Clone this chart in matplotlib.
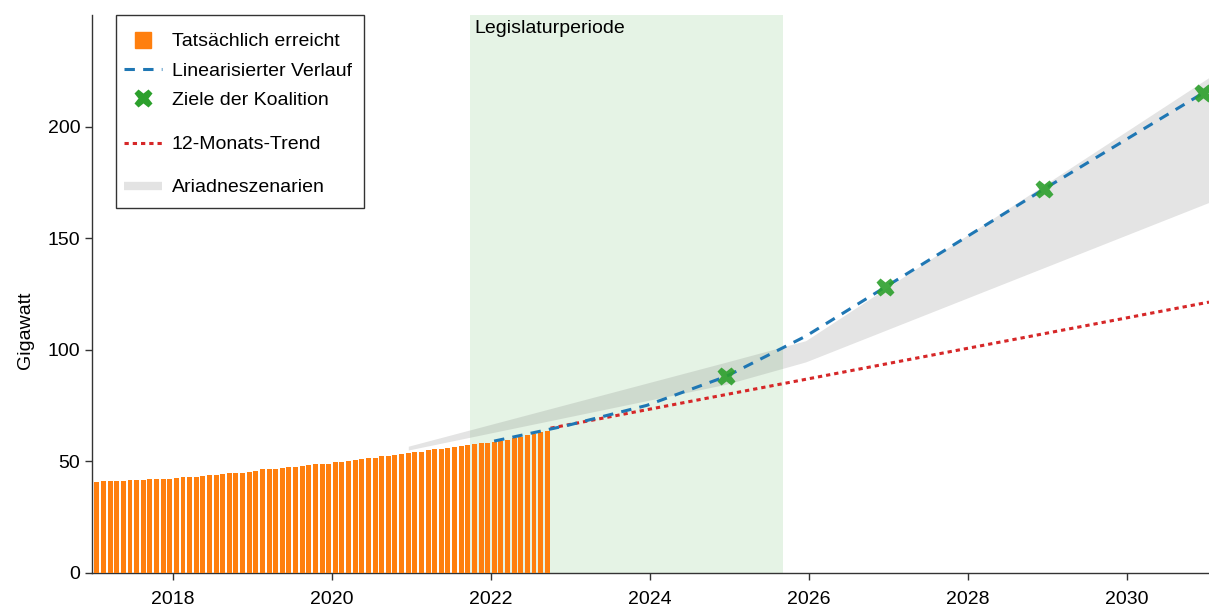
import numpy as np
import matplotlib
matplotlib.use("Agg")
import matplotlib.pyplot as plt
from matplotlib.lines import Line2D
from matplotlib.patches import Rectangle

plt.rcParams['font.family'] = ['Liberation Sans', 'DejaVu Sans']

# ---- data ----
# monthly installed capacity (GW), Jan 2017 .. Sep 2022
actual = [40.6, 40.9, 40.9, 40.9, 41.3, 41.5, 41.6, 41.6, 41.8, 42.1, 42.1, 42.2,
          42.4, 42.7, 42.8, 43.1, 43.3, 43.6, 44.0, 44.3, 44.5, 44.6, 44.9, 45.2,
          45.8, 46.3, 46.5, 46.7, 47.0, 47.3, 47.4, 47.7, 48.2, 48.6,
          48.9, 48.9, 49.5, 49.7, 50.0, 50.4, 50.9, 51.2, 51.6, 52.2, 52.4, 52.8,
          53.3, 53.7, 54.2, 54.3, 54.8, 55.3, 55.6, 56.1, 56.4, 56.8, 57.1, 57.6,
          58.0, 58.3, 58.6, 59.1, 59.5, 60.3, 60.9, 61.6, 62.1, 63.0, 63.5]
start_year = 2017

linear_x = [2022.04, 2022.96, 2023.96, 2024.96, 2025.96, 2026.96, 2028.96, 2030.96]
linear_y = [59, 66, 75, 88, 106, 128, 172, 215]

target_x = [2024.96, 2026.96, 2028.96, 2030.96]
target_y = [88, 128, 172, 215]

trend_x = [2022.75, 2031.035]
trend_y = [64.8, 121.3]

ariadne_x = [2020.96, 2024.96, 2025.96, 2031.035]
ariadne_lo = [55.0, 84.5, 94.5, 166.0]
ariadne_hi = [56.7, 94.4, 104.0, 222.0]

legislatur = (2021.74, 2025.68)

xticks = [2018, 2020, 2022, 2024, 2026, 2028, 2030]
yticks = [0, 50, 100, 150, 200]

ORANGE = '#ff7f0e'
BLUE = '#1f77b4'
GREEN = '#2ca02c'
RED = '#d62728'

# ---- figure ----
fig = plt.figure(figsize=(12.09, 6.07), dpi=100)
ax = fig.add_axes([92/1209, (607-572.7)/607, (1209-92)/1209, (572.7-15)/607])

ax.axvspan(legislatur[0], legislatur[1], color=GREEN, alpha=0.12, lw=0, zorder=0)
ax.text(legislatur[0] + 0.05, 0.975, 'Legislaturperiode', transform=ax.get_xaxis_transform(),
        ha='left', va='center', fontsize=14)

ax.fill_between(ariadne_x, ariadne_lo, ariadne_hi, color='#707070', alpha=0.19, lw=0, zorder=1)

bar_x = start_year + (np.arange(len(actual)) + 0.5) / 12
ax.bar(bar_x, actual, width=0.75/12, color=ORANGE, lw=0, zorder=3)

ax.plot(trend_x, trend_y, color=RED, lw=2.2, dashes=(1.4, 1.3), zorder=2)
ax.plot(linear_x, linear_y, color=BLUE, lw=2.2, dashes=(3.4, 2.7), zorder=4)
ax.plot(target_x, target_y, ls='none', marker='X', ms=13.5, color=GREEN, alpha=0.9,
        mec='none', zorder=5)

ax.set_xlim(2016.98, 2031.035)
ax.set_ylim(0, 250)
ax.set_xticks(xticks)
ax.set_yticks(yticks)
ax.tick_params(labelsize=14, length=5, width=1, color='#333333')
ax.tick_params(axis='x', pad=8)
for s in ['top', 'right']:
    ax.spines[s].set_visible(False)
for s in ['left', 'bottom']:
    ax.spines[s].set_color('#333333')
    ax.spines[s].set_linewidth(1)
ax.set_ylabel('Gigawatt', fontsize=14)
ax.yaxis.set_label_coords(-0.052, 0.435)

# ---- legend ----
hA = [Line2D([], [], ls='none', marker='s', ms=11.5, color=ORANGE),
      Line2D([], [], color=BLUE, lw=2.2, dashes=(3.4, 2.7)),
      Line2D([], [], ls='none', marker='X', ms=13.5, color=GREEN, mec='none')]
lA = ['Tatsächlich erreicht', 'Linearisierter Verlauf', 'Ziele der Koalition']
hB = [Line2D([], [], color=RED, lw=2.2, dashes=(1.4, 1.3)),
      Line2D([], [], color='#e3e3e3', lw=6, solid_capstyle='butt')]
lB = ['12-Monats-Trend', 'Ariadneszenarien']

axw, axh = 1209 - 92, 572.7 - 15
def ax_x(px):
    return (px - 92) / axw
def ax_y(py):
    return (572.7 - py) / axh

common = dict(loc='upper left', frameon=False, fontsize=14, borderpad=0, borderaxespad=0,
              handlelength=1.95, handletextpad=0.51)
legA = ax.legend(hA, lA, bbox_to_anchor=(ax_x(124), ax_y(32.7)), labelspacing=0.61, **common)
ax.add_artist(legA)
legB = ax.legend(hB, lB, bbox_to_anchor=(ax_x(124), ax_y(135.7)), labelspacing=1.31, **common)
ax.add_patch(Rectangle((ax_x(116), ax_y(208)), ax_x(364) - ax_x(116), ax_y(15) - ax_y(208),
                       transform=ax.transAxes, fill=False, ec='#333333', lw=1,
                       zorder=6, clip_on=False))

fig.savefig('out.png', dpi=100)
